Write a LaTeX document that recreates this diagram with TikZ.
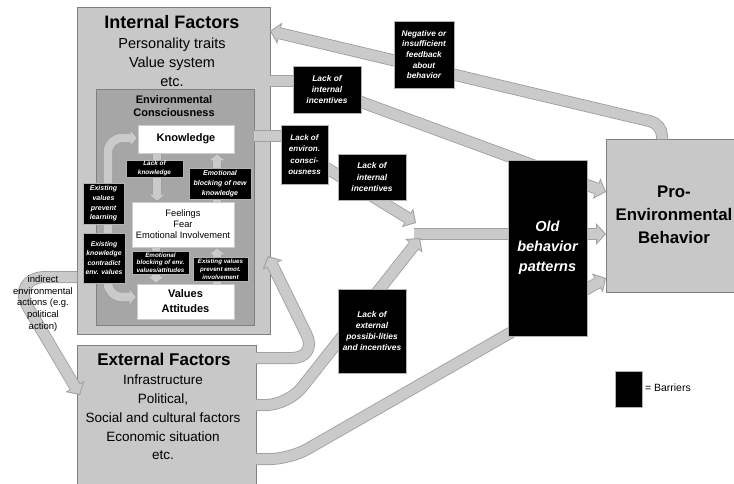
\documentclass[tikz,border=0pt]{standalone}
\usepackage{fontspec}
\setmainfont{Liberation Sans}
\usetikzlibrary{arrows.meta}
\definecolor{boxc}{HTML}{C8C8C8}
\definecolor{bordc}{HTML}{808080}
\definecolor{envc}{HTML}{A6A6A6}
\definecolor{bandf}{HTML}{CACACA}
\definecolor{bandb}{HTML}{A0A0A0}
\pgfdeclarelayer{bgl}
\pgfdeclarelayer{midl}
\pgfsetlayers{bgl,midl,main}
\newcommand\fs[2]{\fontsize{#1}{#2}\selectfont}
\newcommand\fa[3]{\draw[#1O,#1#2O] #3; \draw[#1I,#1#2I] #3; \draw[#1I,#1#2S] #3;}
\tikzset{
 LO/.style={line width=12pt, draw=bandb},
 LI/.style={line width=10pt, draw=bandf},
 LeO/.style={arrows={-Triangle[length=10pt,width=22pt,line width=0pt]}},
 LeI/.style={arrows={-Triangle[length=7.6pt,width=17pt,line width=0pt]}, shorten >=1.4pt},
 LeS/.style={shorten >=8.4pt},
 LnO/.style={}, LnI/.style={}, LnS/.style={},
 SO/.style={line width=10pt, draw=bandb},
 SI/.style={line width=8.2pt, draw=bandf},
 SeO/.style={arrows={-Triangle[length=8pt,width=19pt,line width=0pt]}},
 SeI/.style={arrows={-Triangle[length=6pt,width=14.6pt,line width=0pt]}, shorten >=1.3pt},
 SeS/.style={shorten >=6.8pt},
 SbO/.style={arrows={Triangle[length=8pt,width=19pt,line width=0pt]-Triangle[length=8pt,width=19pt,line width=0pt]}},
 SbI/.style={arrows={Triangle[length=6pt,width=14.6pt,line width=0pt]-Triangle[length=6pt,width=14.6pt,line width=0pt]}, shorten >=1.3pt, shorten <=1.3pt},
 SbS/.style={shorten >=6.8pt, shorten <=6.8pt},
 box/.style={anchor=north west, inner sep=0pt, outer sep=0pt, draw=bordc, line width=0.8pt, fill=boxc},
 wbox/.style={anchor=north west, inner sep=0pt, outer sep=0pt, fill=white, draw=gray!40, line width=0.4pt, align=center},
 bar/.style 2 args={anchor=north west, inner sep=0pt, outer sep=0pt, fill=black, draw=gray!60, line width=0.6pt, text=white, align=center, font=\fontsize{#1}{#2}\selectfont\bfseries\itshape},
 txt/.style={inner sep=0pt, outer sep=0pt, align=center},
}
\begin{document}
\begin{tikzpicture}[x=1pt,y=-1pt]
\useasboundingbox (0,0) rectangle (734,483);
% main boxes (back layer)
\begin{pgfonlayer}{bgl}
\node[box, minimum width=193pt, minimum height=327pt] (ifac) at (77,7) {};
\node[box, fill=envc, minimum width=158pt, minimum height=236pt] (env) at (96,89) {};
\node[box, minimum width=179pt, minimum height=150pt] (ext) at (77,345) {};
\node[box, minimum width=140pt, minimum height=153pt] (pro) at (606,139) {};
\end{pgfonlayer}
% texts of main boxes
\node[txt, font=\fs{18}{20}\bfseries] (ifacT) at (172,22) {Internal Factors};
\node[txt, font=\fs{14.5}{19}] (ifacL) at (172,62.5) {Personality traits\\Value system\\etc.};
\node[txt, font=\fs{11}{13}\bfseries] (envT) at (174,106.5) {Environmental\\Consciousness};
\node[txt, font=\fs{17}{20}\bfseries] (extT) at (164,359) {External Factors};
\node[txt, font=\fs{13.5}{18.8}] (extL) at (163,417.5) {Infrastructure\\Political,\\Social and cultural factors\\Economic situation\\etc.};
\node[txt, font=\fs{16.8}{23}\bfseries] (proT) at (674,215) {Pro-\\Environmental\\Behavior};
% white boxes
\node[wbox, minimum width=96pt, minimum height=28pt, font=\fs{11}{13}\bfseries] (kn) at (138,125) {Knowledge};
\node[wbox, minimum width=102pt, minimum height=45pt, font=\fs{9.3}{11}] (fe) at (132,202) {Feelings\\Fear\\Emotional Involvement};
\node[wbox, minimum width=97pt, minimum height=35pt, font=\fs{11}{15}\bfseries] (val) at (137,284) {Values\\Attitudes};
% barriers
\node[bar={8.2}{10.7}, minimum width=60pt, minimum height=67pt] (neg) at (394,21) {Negative or\\insufficient\\feedback\\about\\behavior};
\node[bar={8.4}{11}, minimum width=68pt, minimum height=47pt] (lii1) at (293,66) {Lack of\\internal\\incentives};
\node[bar={8}{11.3}, minimum width=47pt, minimum height=59pt] (lec) at (281,125) {Lack of\\environ.\\consci-\\ousness};
\node[bar={8.4}{11.3}, minimum width=68pt, minimum height=46pt] (lii2) at (338,154) {Lack of\\internal\\incentives};
\node[bar={8.4}{11.3}, minimum width=68pt, minimum height=84pt] (lep) at (338,289) {Lack of\\external\\possibi-lities\\and incentives};
\node[bar={6.4}{9}, minimum width=57pt, minimum height=17pt] (lk) at (126,160) {Lack of\\knowledge};
\node[bar={7}{10}, minimum width=62pt, minimum height=31pt] (ebnk) at (189,168) {Emotional\\blocking of new\\knowledge};
\node[bar={7}{9.7}, minimum width=41pt, minimum height=41pt] (evpl) at (83,183) {Existing\\values\\prevent\\learning};
\node[bar={6.8}{9.5}, minimum width=42pt, minimum height=50pt] (ekc) at (83,233) {Existing\\knowledge\\contradict\\env. values};
\node[bar={6.3}{7.6}, minimum width=57pt, minimum height=23pt] (ebev) at (132,251) {Emotional\\blocking of env.\\values/attitudes};
\node[bar={6.2}{7.8}, minimum width=55pt, minimum height=24pt] (evpe) at (193,257) {Existing values\\prevent emot.\\involvement};
\node[bar={14.5}{20}, minimum width=79pt, minimum height=176pt] (old) at (508,160) {Old\\behavior\\patterns};
% named coordinates
\coordinate (y31) at (0,31);
\coordinate (y81) at (0,81);
\coordinate (y136) at (0,136);
\coordinate (y138) at (0,138);
\coordinate (y192) at (0,192);
\coordinate (y234) at (0,234);
\coordinate (y277) at (0,277);
\coordinate (y278) at (0,278);
\coordinate (y297) at (0,297);
\coordinate (y358) at (0,358);
\coordinate (y405) at (0,405);
\coordinate (y459) at (0,459);
\coordinate (x108) at (108,0);
\coordinate (x156) at (156,0);
\coordinate (x157) at (157,0);
\coordinate (x217) at (217,0);
\coordinate (fbB) at (662,124);
\coordinate (hookB) at (318,358);
\coordinate (hookE) at (268,256);
\coordinate (lowB) at (288,405);
\coordinate (botB) at (290,459);
\coordinate (indB) at (10,277);
\coordinate (indE) at (80,395);
\coordinate (jA) at (416,223);
\coordinate (jB) at (420,238);
\coordinate (jC) at (414,234);
% bands (middle layer)
\begin{pgfonlayer}{midl}
\fa{L}{e}{[rounded corners=12pt] (pro.north -| fbB) -- (fbB) -- (ifac.east |- y31)}
\fa{L}{n}{(ifac.east |- y81) -- (lii1.west |- y81)}
\fa{L}{e}{(lii1.center) -- (pro.west |- y192)}
\fa{L}{n}{(env.east |- y136) -- (lec.west |- y136)}
\fa{L}{e}{(jC) -- (pro.west |- y234)}
\fa{L}{e}{(lec.center) -- (jA)}
\fa{L}{e}{[rounded corners=22pt] (ext.east |- y405) -- (lowB) -- (jB)}
\fa{L}{e}{[rounded corners=26pt] (ext.east |- y358) -- (hookB) -- (hookE)}
\fa{L}{e}{[rounded corners=20pt] (ext.east |- y459) -- (botB) -- (pro.west |- y278)}
\fa{L}{e}{[rounded corners=36pt] (ifac.west |- y277) -- (indB) -- (indE)}
\fa{S}{e}{(kn.south -| x157) -- (fe.north -| x157)}
\fa{S}{e}{(fe.north -| x217) -- (kn.south -| x217)}
\fa{S}{e}{(fe.south -| x156) -- (val.north -| x156)}
\fa{S}{e}{(val.north -| x217) -- (fe.south -| x217)}
\fa{S}{b}{[rounded corners=14pt] (kn.west |- y138) -- (x108 |- y138) -- (x108 |- y297) -- (val.west |- y297)}
\end{pgfonlayer}
% indirect actions label
\node[txt, font=\fs{9.5}{11.8}] (ind) at (43,303.5) {indirect\\environmental\\actions (e.g.\\political\\action)};
% legend
\node[bar={8}{10}, minimum width=27pt, minimum height=36pt] (leg) at (615,371) {};
\node[txt, anchor=west, font=\fs{10.5}{12}] (legT) at (645,388) {= Barriers};
\end{tikzpicture}
\end{document}
